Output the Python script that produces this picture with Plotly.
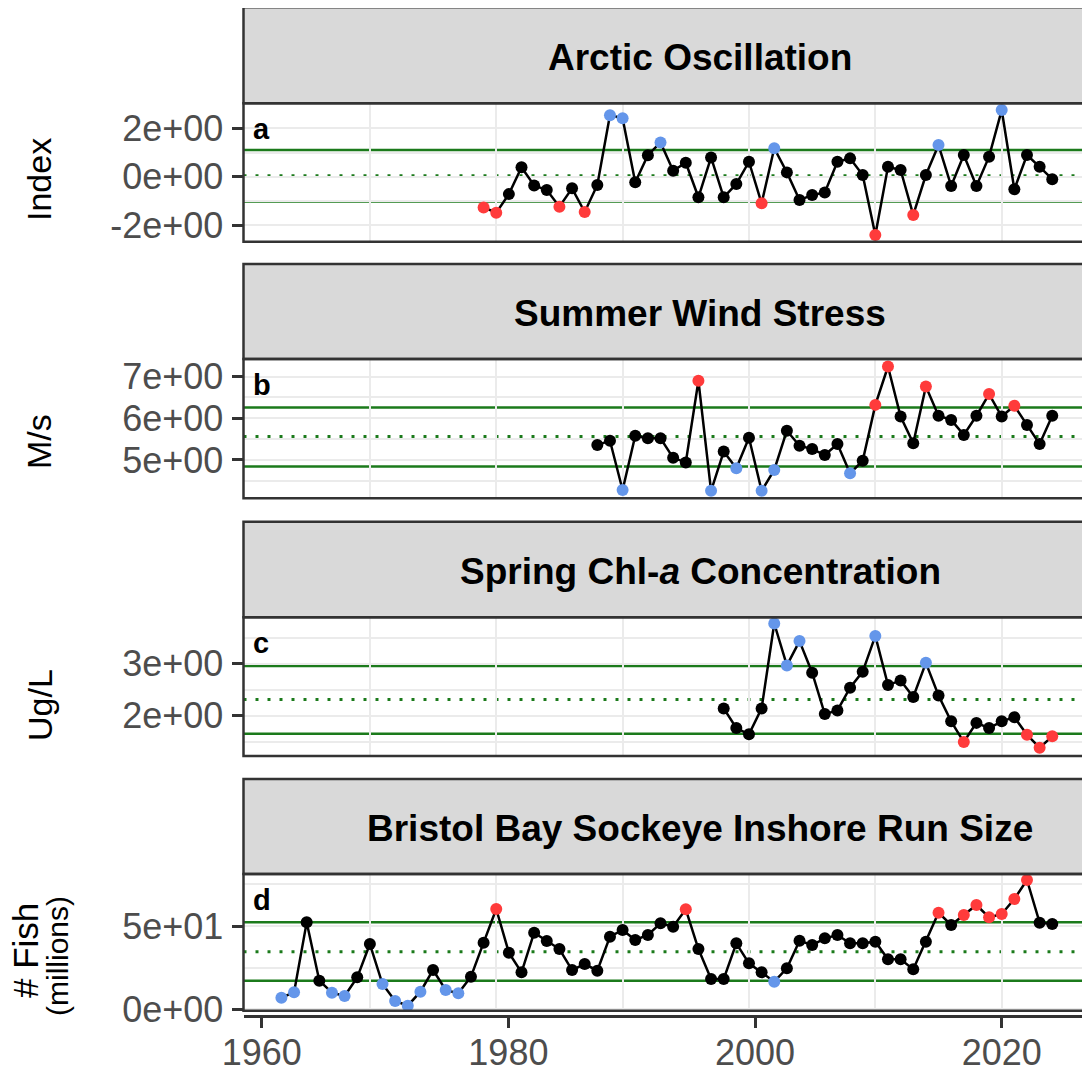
import plotly.graph_objects as go

W, H = 1090, 1071

# ---------------- data ----------------
ao_years = list(range(1979, 2025))
ao_values = [-1.27, -1.49, -0.72, 0.39, -0.36, -0.55, -1.24, -0.48, -1.46, -0.34,
             2.55, 2.42, -0.23, 0.89, 1.42, 0.25, 0.58, -0.85, 0.80, -0.85,
             -0.30, 0.62, -1.10, 1.18, 0.18, -0.96, -0.76, -0.65, 0.62, 0.76,
             0.07, -2.41, 0.41, 0.28, -1.58, 0.07, 1.31, -0.38, 0.90, -0.38,
             0.83, 2.76, -0.52, 0.90, 0.41, -0.10]
ao_flags = "rrkkkkrkrk" "bbkkbkkkkk" "kkrbkkkkkk" "krkkrkbkkk" "kbkkkk"
ao_refs = [0.04, -1.025, 1.105]          # mean, mean-sd, mean+sd

wind_years = list(range(1988, 2025))
wind_values = [5.36, 5.46, 4.28, 5.58, 5.52, 5.52, 5.05, 4.94, 6.90, 4.26,
               5.20, 4.80, 5.53, 4.26, 4.76, 5.70, 5.34, 5.26, 5.12, 5.38,
               4.68, 4.98, 6.32, 7.24, 6.04, 5.40, 6.76, 6.06, 5.96, 5.60,
               6.06, 6.58, 6.04, 6.30, 5.84, 5.38, 6.06]
wind_flags = "kkbkkkkkrb" "kbkbbkkkkk" "bkrrkkrkkk" "krkrkkk"
wind_refs = [5.56, 4.84, 6.26]

chl_years = list(range(1998, 2025))
chl_values = [2.14, 1.76, 1.64, 2.14, 3.78, 2.97, 3.44, 2.83, 2.03, 2.10,
              2.54, 2.85, 3.54, 2.59, 2.68, 2.36, 3.02, 2.39, 1.89, 1.49,
              1.86, 1.76, 1.89, 1.97, 1.63, 1.38, 1.60]
chl_flags = "kkkkbbbkkk" "kkbkkkbkkr" "kkkkrrr"
chl_refs = [2.31, 1.65, 2.96]

fish_years = list(range(1963, 2025))
fish_values = [7.0, 10.2, 52.2, 17.2, 10.0, 8.0, 19.2, 39.2, 15.2, 5.0,
               2.2, 10.6, 23.6, 11.6, 9.6, 19.6, 40.0, 60.2, 34.0, 22.2,
               46.0, 41.0, 36.2, 23.6, 27.2, 23.2, 43.6, 47.6, 41.6, 44.6,
               51.6, 49.6, 60.0, 36.2, 18.2, 18.2, 39.6, 27.6, 22.2, 16.6,
               24.6, 41.2, 38.6, 42.6, 44.6, 39.6, 39.6, 40.6, 30.0, 30.0,
               24.0, 40.6, 58.0, 50.6, 56.6, 62.6, 55.2, 57.2, 66.2, 77.6,
               52.0, 51.2]
fish_flags = "bbkkbbkkbb" "bbkbbkkrkk" "kkkkkkkkkk" "kkrkkkkkkb" "kkkkkkkkkk" "kkrkrrrrrr" "kk"
fish_refs = [34.6, 17.2, 52.2]

titles = ["<b>Arctic Oscillation</b>",
          "<b>Summer Wind Stress</b>",
          "<b>Spring Chl-<i>a</i> Concentration</b>",
          "<b>Bristol Bay Sockeye Inshore Run Size</b>"]
letters = ["a", "b", "c", "d"]
y_titles = ["Index", "M/s", "Ug/L"]
y_tickvals = [[-2, 0, 2], [5, 6, 7], [2, 3], [0, 50]]
y_ticktext = [["-2e+00", "0e+00", "2e+00"], ["5e+00", "6e+00", "7e+00"],
              ["2e+00", "3e+00"], ["0e+00", "5e+01"]]
x_tickvals = [1960, 1980, 2000, 2020]
x_ticktext = ["1960", "1980", "2000", "2020"]

series = [(ao_years, ao_values, ao_flags, ao_refs),
          (wind_years, wind_values, wind_flags, wind_refs),
          (chl_years, chl_values, chl_flags, chl_refs),
          (fish_years, fish_values, fish_flags, fish_refs)]

# ---------------- layout geometry (page pixels) ----------------
OFF = 8            # the page body margin that offsets the figure
X_LEFT = 243.5
panel_px = [(103.3, 241.7), (359.0, 498.3), (617.3, 756.0), (874.0, 1010.7)]
strip_px = [(7.3, 103.3), (264.0, 359.0), (521.7, 617.3), (779.0, 874.0)]
y_ranges = [[-2.69, 3.04], [4.08, 7.42], [1.22, 3.90], [-0.8, 81.2]]
y_minor = [[-1, 1], [4.5, 5.5, 6.5], [1.5, 2.5, 3.5], [25, 75]]
x_range = [1960.0, 2027.62]
x_axis_range = [1958.52, 2027.81]


def py(p):
    return 1 - (p - OFF) / H


def pxx(p):
    return (p - OFF) / W


COLORS = {"k": "#000000", "r": "#FF3B3B", "b": "#6496EA"}
BORDER = "#333333"
GRID = "#EBEBEB"
GREEN = "#1B7A1B"
FONT = "Liberation Sans, Arial, sans-serif"

fig = go.Figure()
layout = dict(
    width=W, height=H,
    margin=dict(l=0, r=0, t=0, b=0, autoexpand=False),
    paper_bgcolor="white", plot_bgcolor="white",
    showlegend=False,
    font=dict(family=FONT),
)
shapes = []
annotations = []

for i, (yrs, vals, flags, refs) in enumerate(series):
    n = "" if i == 0 else str(i + 1)
    xa, ya = "x" + n, "y" + n
    top, bot = panel_px[i]
    layout["xaxis" + n] = dict(
        domain=[pxx(X_LEFT), 1.0], range=x_range, anchor=ya, automargin=False,
        showticklabels=False, ticks="", tickvals=x_tickvals,
        showgrid=True, gridcolor=GRID, gridwidth=2, zeroline=False,
        minor=dict(tickvals=[1970, 1990, 2010], showgrid=True, gridcolor=GRID,
                   gridwidth=1.5, ticks=""),
        fixedrange=True,
    )
    layout["yaxis" + n] = dict(
        domain=[py(bot), py(top)], range=y_ranges[i], anchor=xa, automargin=False,
        tickvals=y_tickvals[i], ticktext=y_ticktext[i],
        ticks="outside", ticklen=11, tickwidth=2.5, tickcolor=BORDER,
        tickfont=dict(size=36, color="#4D4D4D", family=FONT),
        ticklabelstandoff=1,
        showgrid=True, gridcolor=GRID, gridwidth=2, zeroline=False,
        minor=dict(tickvals=y_minor[i], showgrid=True, gridcolor=GRID,
                   gridwidth=1.5, ticks=""),
        fixedrange=True,
    )
    # reference lines: mean (dotted), mean +/- sd (solid)
    for j, v in enumerate(refs):
        shapes.append(dict(
            type="line", xref=xa + " domain", yref=ya, x0=0, x1=1, y0=v, y1=v,
            line=dict(color=GREEN, width=2.5 if j else 3,
                      dash="solid" if j else "3px,9px"),
            layer="below",
        ))
    fig.add_trace(go.Scatter(
        x=yrs, y=vals, xaxis=xa, yaxis=ya, mode="lines+markers",
        line=dict(color="black", width=2.5),
        marker=dict(color=[COLORS[f] for f in flags], size=12, line=dict(width=0)),
        hoverinfo="x+y",
    ))
    # strip
    s0, s1 = strip_px[i]
    shapes.append(dict(type="rect", xref="paper", yref="paper",
                       x0=pxx(X_LEFT), x1=1.02, y0=py(s1), y1=py(s0),
                       fillcolor="#D9D9D9", line=dict(color=BORDER, width=2.5),
                       layer="above"))
    # panel border
    shapes.append(dict(type="rect", xref="paper", yref="paper",
                       x0=pxx(X_LEFT), x1=1.02, y0=py(bot), y1=py(top),
                       fillcolor="rgba(0,0,0,0)", line=dict(color=BORDER, width=2.5),
                       layer="above"))
    annotations.append(dict(
        text=titles[i], xref="paper", yref="paper", x=pxx(700), y=py((s0 + s1) / 2 + 2),
        showarrow=False, xanchor="center", yanchor="middle",
        font=dict(size=37, color="black", family=FONT),
    ))
    annotations.append(dict(
        text="<b>" + letters[i] + "</b>", xref="paper", yref="paper",
        x=pxx(251), y=py(top + 26), showarrow=False, xanchor="left", yanchor="middle",
        font=dict(size=29, color="black", family=FONT),
    ))

# y-axis titles
title_pos = [(39, 180), (39, 442), (40, 705)]
for t, (xp, yp) in zip(y_titles, title_pos):
    annotations.append(dict(text=t, xref="paper", yref="paper", x=pxx(xp), y=py(yp),
                            textangle=-90, showarrow=False, xanchor="center", yanchor="middle",
                            font=dict(size=34, color="black", family=FONT)))
annotations.append(dict(text="# Fish", xref="paper", yref="paper", x=pxx(25), y=py(951),
                        textangle=-90, showarrow=False, xanchor="center", yanchor="middle",
                        font=dict(size=35, color="black", family=FONT)))
annotations.append(dict(text="(millions)", xref="paper", yref="paper", x=pxx(57), y=py(956),
                        textangle=-90, showarrow=False, xanchor="center", yanchor="middle",
                        font=dict(size=30, color="black", family=FONT)))

# bottom x axis
layout["xaxis5"] = dict(
    domain=[pxx(X_LEFT), 1.0], range=x_axis_range, overlaying="x4",
    anchor="free", position=py(1015.5), side="bottom", automargin=False,
    tickvals=x_tickvals, ticktext=x_ticktext,
    ticks="outside", ticklen=11, tickwidth=2.5, tickcolor=BORDER,
    tickfont=dict(size=36, color="#4D4D4D", family=FONT),
    ticklabelstandoff=-6,
    showline=True, linecolor=BORDER, linewidth=2.5,
    showgrid=False, zeroline=False, fixedrange=True,
)
fig.add_trace(go.Scatter(x=[x_tickvals[0], x_tickvals[-1]], y=[None, None],
                         xaxis="x5", yaxis="y4", mode="markers",
                         marker=dict(opacity=0), hoverinfo="skip"))

layout["shapes"] = shapes
layout["annotations"] = annotations
fig.update_layout(**layout)
fig.write_html("out.html")
